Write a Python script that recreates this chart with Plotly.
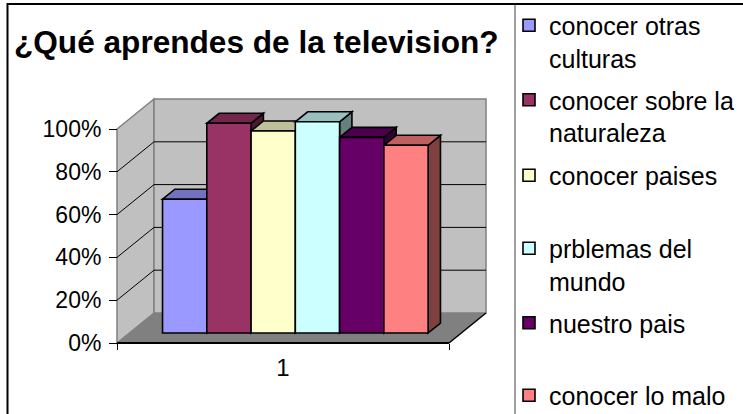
import plotly.graph_objects as go

# ---------------- data ----------------
TITLE = "¿Qué aprendes de la television?"
CATEGORY = "1"
SERIES = [
    "conocer otras<br>culturas",
    "conocer sobre la<br>naturaleza",
    "conocer paises",
    "prblemas del<br>mundo",
    "nuestro pais",
    "conocer lo malo",
]
VALUES = [0.625, 0.980, 0.944, 0.987, 0.914, 0.877]
COLORS = ["#9999FF", "#993366", "#FFFFCC", "#CCFFFF", "#660066", "#FF8080"]
Y_TICKS = [0, 0.2, 0.4, 0.6, 0.8, 1.0]
Y_TICK_LABELS = ["0%", "20%", "40%", "60%", "80%", "100%"]

# ---------------- layout geometry (pixels) ----------------
W, H = 743, 414
FONT = "Liberation Sans, Arial, sans-serif"

X_LEFT, X_RIGHT = 117, 449          # front floor edge
X_UNIT = X_RIGHT - X_LEFT           # px per category
X_CENTER = (X_LEFT + X_RIGHT) / 2
Y_ZERO, Y_UNIT = 343, 214           # px of 0 and px per 100 %
DOM_L, DOM_R, DOM_T, DOM_B = 110, 495, 88, 355
DEPTH_X, DEPTH_Y = 37, 30           # oblique depth of the floor, px

xr = [(DOM_L - X_CENTER) / X_UNIT, (DOM_R - X_CENTER) / X_UNIT]
yr = [-(DOM_B - Y_ZERO) / Y_UNIT, (Y_ZERO - DOM_T) / Y_UNIT]
DX = DEPTH_X / X_UNIT
DY = DEPTH_Y / Y_UNIT
BDX, BDY = DX / 3, DY / 3           # bars sit in the middle third of the depth

BARGAP = 0.2


def shade(hexc, f):
    r, g, b = (int(hexc[i:i + 2], 16) for i in (1, 3, 5))
    return f"rgb({int(r * f)},{int(g * f)},{int(b * f)})"


def poly(pts):
    return "M " + " L ".join(f"{x},{y}" for x, y in pts) + " Z"


fig = go.Figure()

# dummy trace so that the front (label) axis knows the category
fig.add_trace(go.Scatter(x=[CATEGORY], y=[None], mode="markers",
                         showlegend=False, hoverinfo="skip"))

for i, (name, val, col) in enumerate(zip(SERIES, VALUES, COLORS)):
    fig.add_trace(go.Bar(
        x=[CATEGORY], y=[val], name=name,
        marker=dict(color=col, line=dict(color="black", width=1.6)),
        xaxis="x2", yaxis="y2",
        legend="legend" if i == 0 else f"legend{i + 1}",
        hovertemplate=name.replace("<br>", " ") + ": %{y:.0%}<extra></extra>",
    ))

shapes = []
L0, R0 = -0.5, 0.5
# side wall
shapes.append(dict(type="path", xref="x", yref="y", layer="below",
                   path=poly([(L0, 0), (L0 + DX, DY), (L0 + DX, 1 + DY), (L0, 1)]),
                   fillcolor="#C0C0C0", line=dict(color="#808080", width=1.5)))
# back wall
shapes.append(dict(type="rect", xref="x", yref="y", layer="below",
                   x0=L0 + DX, x1=R0 + DX, y0=DY, y1=1 + DY,
                   fillcolor="#C0C0C0", line=dict(color="#808080", width=1.5)))
# floor
shapes.append(dict(type="path", xref="x", yref="y", layer="below",
                   path=poly([(L0, 0), (R0, 0), (R0 + DX, DY), (L0 + DX, DY)]),
                   fillcolor="#808080", line=dict(width=0)))
# gridlines
for v in Y_TICKS[1:-1]:
    shapes.append(dict(type="line", xref="x", yref="y", layer="below",
                       x0=L0 + DX, x1=R0 + DX, y0=v + DY, y1=v + DY,
                       line=dict(color="black", width=1)))
    shapes.append(dict(type="line", xref="x", yref="y", layer="below",
                       x0=L0, x1=L0 + DX, y0=v, y1=v + DY,
                       line=dict(color="black", width=1)))
# floor edges
shapes.append(dict(type="line", xref="x", yref="y", layer="below",
                   x0=L0, x1=R0, y0=0, y1=0, line=dict(color="black", width=2)))
shapes.append(dict(type="line", xref="x", yref="y", layer="below",
                   x0=R0, x1=R0 + DX, y0=0, y1=DY, line=dict(color="black", width=1.5)))

# bar top / side faces (in the bars' own axes)
n = len(VALUES)
bw = (1 - BARGAP) / n
for i, (val, col) in enumerate(zip(VALUES, COLORS)):
    xl = -(1 - BARGAP) / 2 + i * bw
    xrr = xl + bw
    shapes.append(dict(type="path", xref="x2", yref="y2", layer="below",
                       path=poly([(xrr, 0), (xrr + BDX, BDY), (xrr + BDX, val + BDY), (xrr, val)]),
                       fillcolor=shade(col, 0.5), line=dict(color="black", width=1.6)))
    shapes.append(dict(type="path", xref="x2", yref="y2", layer="below",
                       path=poly([(xl, val), (xrr, val), (xrr + BDX, val + BDY), (xl + BDX, val + BDY)]),
                       fillcolor=shade(col, 0.75), line=dict(color="black", width=1.6)))

# chart border and legend separator (paper)
shapes.append(dict(type="rect", xref="paper", yref="paper", layer="above",
                   x0=7.5 / W, x1=1.05, y0=-0.05, y1=1 - 4 / H,
                   line=dict(color="black", width=2), fillcolor="rgba(0,0,0,0)"))
shapes.append(dict(type="line", xref="paper", yref="paper", layer="above",
                   x0=515 / W, x1=515 / W, y0=-0.05, y1=1 - 5 / H,
                   line=dict(color="#808080", width=1.5)))

LEGEND_TOPS = [2.5, 77, 152.5, 225.5, 300, 372.5]
legend_common = dict(x=509 / W, xanchor="left", yanchor="top", valign="top",
                     bgcolor="rgba(0,0,0,0)", borderwidth=0, itemwidth=30,
                     font=dict(family=FONT, size=25, color="black"))
legends = {}
for i, top in enumerate(LEGEND_TOPS):
    key = "legend" if i == 0 else f"legend{i + 1}"
    legends[key] = dict(legend_common, y=1 - top / H)

fig.update_layout(
    width=W, height=H,
    margin=dict(l=0, r=0, t=0, b=0, autoexpand=False),
    paper_bgcolor="white", plot_bgcolor="rgba(0,0,0,0)",
    barmode="group", bargap=BARGAP, bargroupgap=0,
    showlegend=True,
    font=dict(family=FONT, color="black"),
    xaxis=dict(type="category", domain=[DOM_L / W, DOM_R / W], range=xr,
               anchor="free", position=1 - Y_ZERO / H,
               showgrid=False, zeroline=False, showline=False,
               tickson="boundaries", ticks="outside", ticklen=6, tickcolor="black",
               tickwidth=1, ticklabelstandoff=8,
               tickfont=dict(family=FONT, size=24, color="black")),
    yaxis=dict(domain=[1 - DOM_B / H, 1 - DOM_T / H], range=yr,
               anchor="free", position=X_LEFT / W,
               tickmode="array", tickvals=Y_TICKS, ticktext=Y_TICK_LABELS,
               showgrid=False, zeroline=False, showline=False,
               ticks="outside", ticklen=8, tickcolor="black", tickwidth=1,
               ticklabelstandoff=3,
               tickfont=dict(family=FONT, size=23, color="black")),
    xaxis2=dict(overlaying="x", anchor="y2", range=[xr[0] - BDX, xr[1] - BDX],
                visible=False),
    yaxis2=dict(overlaying="y", anchor="x2", range=[yr[0] - BDY, yr[1] - BDY],
                visible=False),
    shapes=shapes,
    annotations=[dict(text=f"<b>{TITLE}</b>", xref="paper", yref="paper",
                      x=256.5 / W, y=1 - 42 / H, xanchor="center", yanchor="middle",
                      showarrow=False, font=dict(family=FONT, size=31.6, color="black"))],
    **legends,
)

fig.write_html("out.html",
               config={"displayModeBar": False},
               post_script="document.body.style.margin='0';"
                           "document.documentElement.style.overflow='hidden';")
